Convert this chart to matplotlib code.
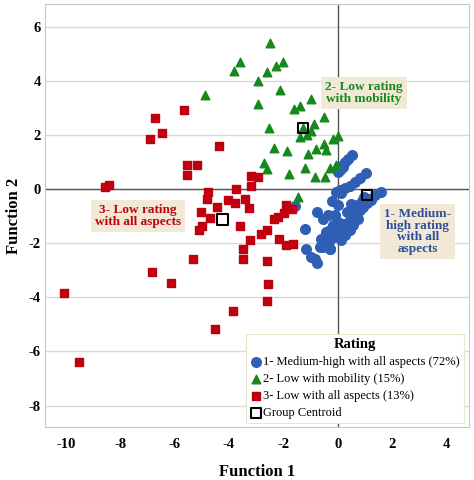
import matplotlib.pyplot as plt
import numpy as np

# group 1 - medium-high rating with all aspects
blue_x = [0.54, 0.38, 0.26, 0.13, 0.07, 0.02, 0.19, 1.03, 0.81, 0.63, 0.44, 0.26, 0.07,
          -0.05, 0.13, 1.58, 1.36, 1.24, 1.08, 0.93, 0.81, 0.69, 0.56, 0.44, 0.32,
          0.19, 0.07, -0.05, -0.17, -0.29, -0.42, -0.54, -0.66, -0.29, 0.13, 0.17, -0.23,
          -0.78, -0.54, -0.36, -1.20, -1.18, -0.97, -0.85, -0.77, -1.58, 0.01, 0.01, 0.75,
          0.56, 0.44, 0.26, -0.17, -0.29, -0.42, 0.13, 0.22, -0.54, -0.39, -0.27,
          0.90, 0.70, 0.60, 0.95, 1.15, 0.35, 0.50, -0.10, -0.62, -0.45]
blue_y = [1.26, 1.13, 1.01, 0.85, 0.70, 0.62, 0.83, 0.58, 0.42, 0.27, 0.11, 0.03, -0.04,
          -0.10, -0.16, -0.10, -0.22, -0.41, -0.53, -0.65, -0.78, -0.90, -1.02, -1.15, -1.27,
          -1.40, -1.52, -1.64, -1.77, -1.89, -2.01, -2.14, -2.14, -2.20, -1.64, -1.46, -0.43,
          -0.84, -1.09, -0.96, -1.46, -2.21, -2.49, -2.60, -2.73, -0.64, -0.59, -1.21, -1.09,
          -1.33, -1.52, -1.70, -1.33, -1.52, -1.70, -1.89, -1.30, -1.89, -2.01, -2.20,
          -0.45, -0.60, -0.75, -0.30, -0.35, -0.85, -0.55, -0.95, -1.85, -1.60]

# group 2 - low rating with mobility
green_x = [-2.51, -3.61, -3.80, -2.01, -2.28, -2.62, -2.92, -2.12, -4.89, -2.95, -0.98,
           -1.39, -1.61, -0.49, -2.52, -0.88, -0.97, -1.27, -1.40, -1.15, 0.02, -0.16,
           -0.52, -0.44, -0.80, -1.09, -2.34, -1.86, -2.72, -2.60, -1.79, -1.19, -0.85,
           -0.48, -0.30, -0.08, -1.46]
green_y = [5.40, 4.71, 4.37, 4.71, 4.55, 4.34, 4.00, 3.66, 3.48, 3.15, 3.34,
           3.08, 2.96, 2.65, 2.25, 2.41, 2.15, 2.25, 1.94, 2.00, 1.98, 1.87,
           1.66, 1.44, 1.48, 1.30, 1.53, 1.42, 0.97, 0.75, 0.55, 0.78, 0.46,
           0.46, 0.78, 0.91, -0.30]

# group 3 - low rating with all aspects
red_x = [-5.64, -6.74, -6.47, -6.89, -4.38, -5.56, -5.18, -5.54, -8.57, -8.42, -3.21,
         -2.92, -3.21, -3.76, -4.77, -4.80, -4.03, -3.79, -3.42, -3.26, -4.44, -5.05,
         -4.71, -4.99, -5.10, -3.58, -1.89, -1.70, -1.98, -2.20, -2.36, -2.61, -2.83,
         -3.22, -2.16, -1.89, -1.64, -3.50, -3.50, -5.32, -2.60, -6.14, -6.84, -2.58,
         -2.60, -3.85, -4.52, -10.06, -9.53]
red_y = [2.91, 2.64, 2.07, 1.84, 1.60, 0.88, 0.88, 0.52, 0.09, 0.17, 0.49,
         0.46, 0.10, 0.00, -0.12, -0.38, -0.41, -0.51, -0.35, -0.69, -0.65, -0.84,
         -1.05, -1.36, -1.52, -1.36, -0.59, -0.75, -0.88, -1.02, -1.12, -1.50, -1.64,
         -1.89, -1.84, -2.07, -2.01, -2.22, -2.57, -2.57, -2.66, -3.47, -3.07, -3.49,
         -4.15, -4.51, -5.16, -3.84, -6.40]

centroid_x = [1.08, -1.27, -4.24]
centroid_y = [-0.22, 2.25, -1.12]

labels = ['1- Medium-high with all aspects (72%)', '2- Low with mobility (15%)',
          '3- Low with all aspects (13%)', 'Group Centroid']

plt.rcParams['font.family'] = ['Liberation Serif', 'DejaVu Serif']
plt.rcParams['axes.unicode_minus'] = False

fig = plt.figure(figsize=(4.74, 4.8), dpi=100)
ax = fig.add_axes([0.095, 0.110, 0.894, 0.882])

blue = '#2f5fb5'
green = '#15891b'
red = '#c0000e'

ax.axhline(0, color='#555555', lw=1.0, zorder=1)
ax.axvline(0, color='#555555', lw=1.0, zorder=1)

ax.scatter(blue_x, blue_y, s=48, marker='o', color=blue, label=labels[0], zorder=3)
ax.scatter(green_x, green_y, s=38, marker='^', color=green, label=labels[1], zorder=3)
ax.scatter(red_x, red_y, s=40, marker='s', color=red, label=labels[2], zorder=3)
ax.scatter(centroid_x, centroid_y, s=55, marker='s', facecolor='none', edgecolor='black',
           linewidth=1.5, label=labels[3], zorder=4)

ax.set_xlim(-10.77, 4.82)
ax.set_ylim(-8.8, 6.85)
ax.set_xticks(np.arange(-10, 5, 2))
ax.set_yticks(np.arange(-8, 7, 2))
ax.yaxis.grid(True, color='#d9d9d9', lw=1.0, zorder=0)
ax.set_axisbelow(True)
ax.tick_params(length=0, labelsize=10.5)
ax.tick_params(axis='x', pad=8)
ax.tick_params(axis='y', pad=3)
for t in ax.get_xticklabels() + ax.get_yticklabels():
    t.set_fontweight('bold')
for sp in ax.spines.values():
    sp.set_color('#c8c8c8')

ax.set_xlabel('Function 1', fontsize=12, fontweight='bold', labelpad=9)
ax.set_ylabel('Function 2', fontsize=12, fontweight='bold', labelpad=5)

box = dict(boxstyle='square,pad=0.3', facecolor='#f1e9d6', edgecolor='none')
ax.text(0.96, 3.56, '2- Low rating\nwith mobility', color=green, fontsize=9.5, fontweight='bold',
        ha='center', va='center', linespacing=0.95, bbox=box, zorder=5)
ax.text(-7.35, -1.0, '3- Low rating\nwith all aspects', color=red, fontsize=9.5, fontweight='bold',
        ha='center', va='center', linespacing=0.95, bbox=box, zorder=5)
ax.text(2.94, -1.56, '1- Medium-\nhigh rating\nwith all\naspects', color='#2e4d9c', fontsize=9.5,
        fontweight='bold', ha='center', va='center', linespacing=0.95, bbox=box, zorder=5)

leg = ax.legend(loc='lower right', bbox_to_anchor=(0.988, 0.01), borderaxespad=0,
                title='Rating', fontsize=9,
                title_fontproperties={'weight': 'bold', 'size': 10.5}, handletextpad=0.1,
                borderpad=0.3, labelspacing=0.4, handlelength=1.0, fancybox=False,
                framealpha=1, edgecolor='#e6e6cc')
leg.get_frame().set_linewidth(0.8)

fig.savefig('out.png', dpi=100)
